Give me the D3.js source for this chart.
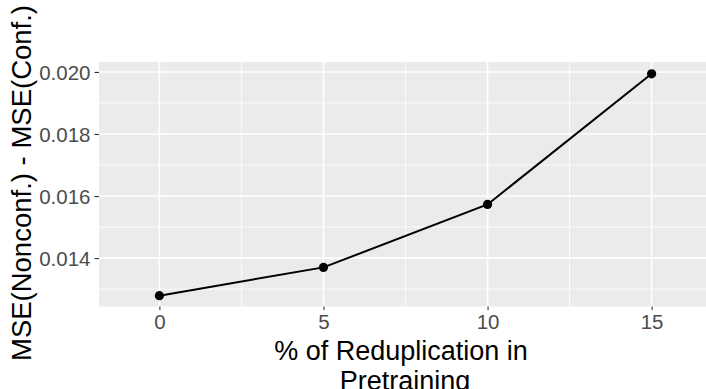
<!DOCTYPE html>
<html>
<head>
<meta charset="utf-8">
<script src="https://cdn.jsdelivr.net/npm/d3@7"></script>
<style>
  html, body { margin: 0; padding: 0; background: #fff; }
  svg { display: block; font-family: "Liberation Sans", Arial, sans-serif; }
</style>
</head>
<body>
<svg id="chart" width="706" height="389"></svg>
<script>
const reduplication = [0, 5, 10, 15];
const mseDiff = [0.01279, 0.01370, 0.01573, 0.01994];
const xTicks = [0, 5, 10, 15];
const xMinor = [-2.5, 2.5, 7.5, 12.5, 17.5];
const yTicks = [0.014, 0.016, 0.018, 0.020];
const yMinor = [0.013, 0.015, 0.017, 0.019];
const xTitleLines = ["% of Reduplication in", "Pretraining"];
const yTitle = "MSE(Nonconf.) - MSE(Conf.)";

const svg = d3.select("#chart");
const panel = { left: 99, right: 712, top: 62, bottom: 306.5 };

const x = d3.scaleLinear().domain([-1.84, 16.84]).range([panel.left, panel.right]);
const y = d3.scaleLinear().domain([0.01244, 0.02032]).range([panel.bottom, panel.top]);

svg.append("defs").append("clipPath").attr("id", "clip")
  .append("rect").attr("x", panel.left).attr("y", panel.top)
  .attr("width", panel.right - panel.left).attr("height", panel.bottom - panel.top);

svg.append("rect")
  .attr("x", panel.left).attr("y", panel.top)
  .attr("width", panel.right - panel.left).attr("height", panel.bottom - panel.top)
  .attr("fill", "#EBEBEB");

const grid = svg.append("g").attr("clip-path", "url(#clip)");
grid.selectAll(".ymin").data(yMinor).join("line")
  .attr("x1", panel.left).attr("x2", panel.right)
  .attr("y1", d => y(d)).attr("y2", d => y(d))
  .attr("stroke", "#fff").attr("stroke-width", 0.8);
grid.selectAll(".xmin").data(xMinor).join("line")
  .attr("y1", panel.top).attr("y2", panel.bottom)
  .attr("x1", d => x(d)).attr("x2", d => x(d))
  .attr("stroke", "#fff").attr("stroke-width", 0.8);
grid.selectAll(".ymaj").data(yTicks).join("line")
  .attr("x1", panel.left).attr("x2", panel.right)
  .attr("y1", d => y(d)).attr("y2", d => y(d))
  .attr("stroke", "#fff").attr("stroke-width", 1.6);
grid.selectAll(".xmaj").data(xTicks).join("line")
  .attr("y1", panel.top).attr("y2", panel.bottom)
  .attr("x1", d => x(d)).attr("x2", d => x(d))
  .attr("stroke", "#fff").attr("stroke-width", 1.6);

// axes
const xAxis = svg.append("g")
  .attr("transform", `translate(0,${panel.bottom})`)
  .call(d3.axisBottom(x).tickValues(xTicks).tickFormat(d3.format("d")).tickSize(3.5).tickPadding(3));
const yAxis = svg.append("g")
  .attr("transform", `translate(${panel.left},0)`)
  .call(d3.axisLeft(y).tickValues(yTicks).tickFormat(d3.format(".3f")).tickSize(4.5).tickPadding(4));
[xAxis, yAxis].forEach(a => {
  a.select(".domain").remove();
  a.selectAll(".tick line").attr("stroke", "#333333").attr("stroke-width", 1.1);
  a.selectAll(".tick text").attr("fill", "#4D4D4D")
    .style("font-family", '"Liberation Sans", Arial, sans-serif').style("font-size", "20.5px");
});
xAxis.selectAll(".tick text").attr("dy", "0.76em");
yAxis.selectAll(".tick text").attr("dy", "0.36em");

// line + points
const data = reduplication.map((d, i) => ({ x: d, y: mseDiff[i] }));
svg.append("path").datum(data)
  .attr("fill", "none").attr("stroke", "#000").attr("stroke-width", 2)
  .attr("d", d3.line().x(d => x(d.x)).y(d => y(d.y)));
svg.selectAll(".pt").data(data).join("circle")
  .attr("cx", d => x(d.x)).attr("cy", d => y(d.y)).attr("r", 4.6).attr("fill", "#000");

// titles
const xt = svg.append("text")
  .attr("text-anchor", "middle")
  .style("font-size", "27px").attr("fill", "#000");
xt.selectAll("tspan").data(xTitleLines).join("tspan")
  .attr("x", (d, i) => i === 0 ? 401 : 405)
  .attr("y", (d, i) => 360 + i * 30)
  .text(d => d);

svg.append("text")
  .attr("transform", "translate(31,183) rotate(-90)")
  .attr("text-anchor", "middle")
  .style("font-size", "27.5px").attr("fill", "#000")
  .text(yTitle);
</script>
</body>
</html>
